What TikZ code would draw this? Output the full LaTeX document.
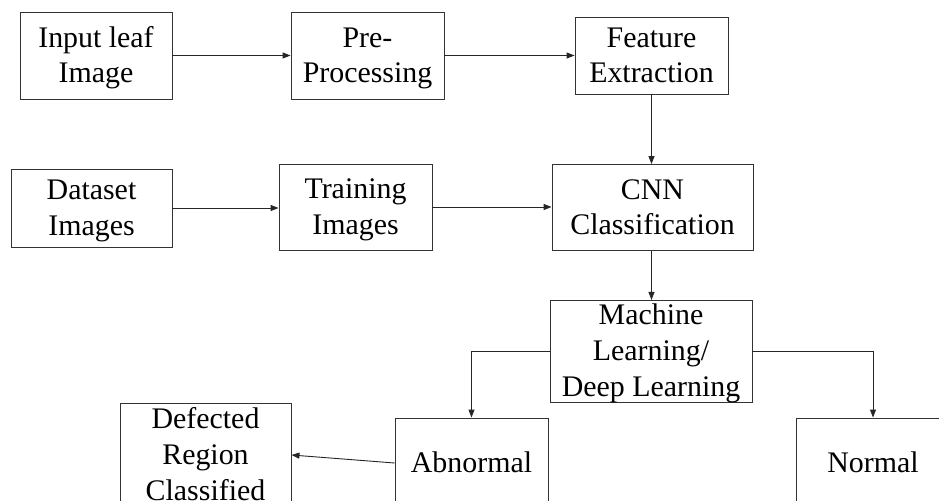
\documentclass[tikz,border=0pt]{standalone}
\usepackage{fontspec}
\setmainfont{Liberation Serif}
\usetikzlibrary{arrows.meta}
\newcommand\topst{\rule{0pt}{27bp}}
\newcommand\botst{\rule[-8bp]{0pt}{8bp}}
\newcommand\topsm{\rule{0pt}{24bp}}
\newcommand\botsm{\rule[-5bp]{0pt}{5bp}}
\begin{document}
\begin{tikzpicture}[x=1bp,y=-1bp,
  box/.style={draw=black!80, line width=0.9bp, align=center, inner sep=0pt,
    font=\fontsize{30}{36}\selectfont},
  arr/.style={draw=black!85, line width=0.9bp, -{Triangle[length=8bp,width=6bp]}}]
\useasboundingbox[fill=white] (0,0) rectangle (939,501);
\node[box, minimum width=152bp, minimum height=87bp] (b1) at (96,55.5) {\topst Input leaf\\Image\botst};
\node[box, minimum width=153bp, minimum height=87bp] (b2) at (367.5,55.5) {\topst Pre-\\Processing\botst};
\node[box, minimum width=153bp, minimum height=77bp] (b3) at (651.5,55.5) {\topst Feature\\Extraction\botst};
\node[box, minimum width=161bp, minimum height=78bp] (b4) at (91.5,208) {\topst Dataset\\Images\botst};
\node[box, minimum width=153bp, minimum height=86bp] (b5) at (355.5,207) {\topst Training\\Images\botst};
\node[box, minimum width=201bp, minimum height=86bp] (b6) at (652.5,207.5) {\topst CNN\\Classification\botst};
\node[box, minimum width=202bp, minimum height=101bp] (b7) at (651,351.5) {\topsm Machine\\Learning/\\Deep Learning\botsm};
\node[box, minimum width=153bp, minimum height=90bp] (b8) at (471.5,463) {\topst Abnormal\botst};
\node[box, minimum width=154bp, minimum height=90bp] (b9) at (873,463) {\topst Normal\botst};
\node[box, minimum width=171bp, minimum height=104bp] (b10) at (205.5,455) {\topsm Defected\\Region\\Classified\botsm};
\draw[arr] (b1.east) -- (b2.west);
\draw[arr] (b2.east) -- (b3.west);
\draw[arr] (b3.south) -- (b3.south |- b6.north);
\draw[arr] (b4.east) -- (b4.east -| b5.west);
\draw[arr] (b5.east) -- (b5.east -| b6.west);
\draw[arr] (b3.south |- b6.south) -- (b3.south |- b7.north);
\draw[arr] (b7.west) -| (b8.north);
\draw[arr] (b7.east) -| (b9.north);
\draw[arr] (b8.west) -- (b10.east);
\end{tikzpicture}
\end{document}
